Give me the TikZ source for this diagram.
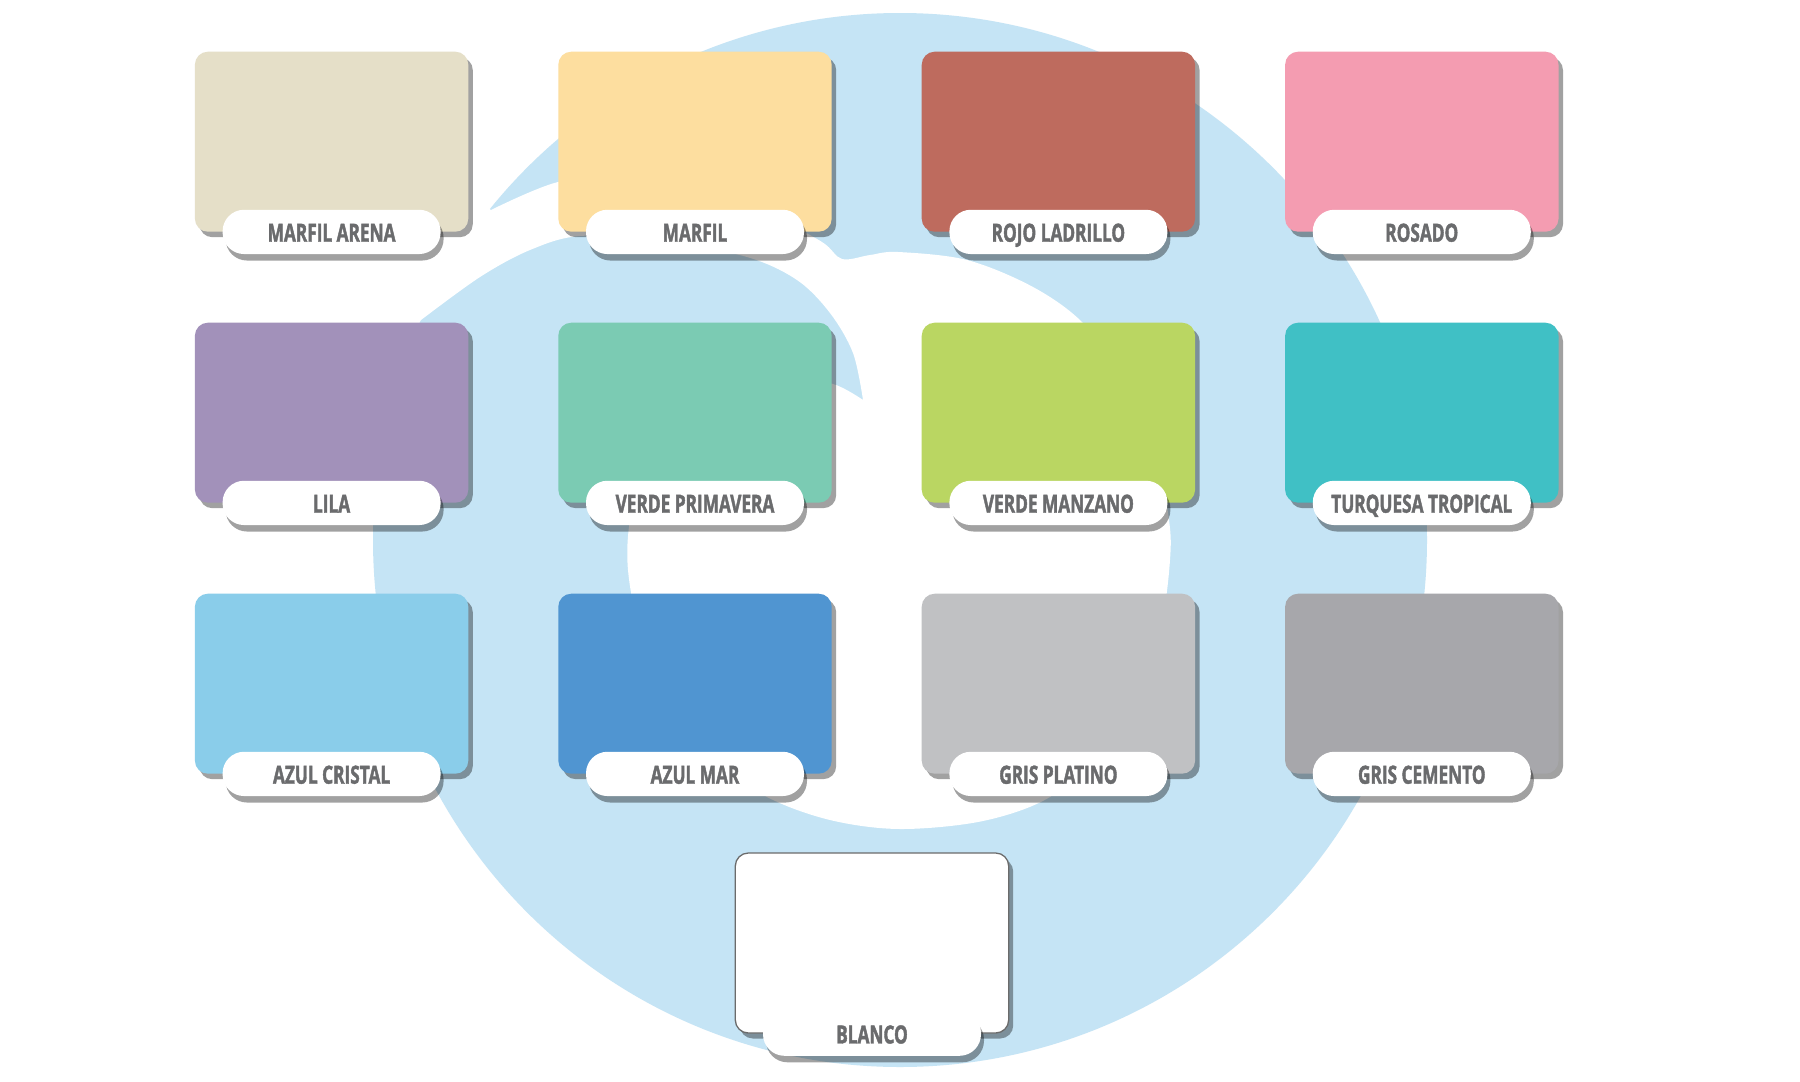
\documentclass[tikz,border=0pt]{standalone}
\usepackage{fontspec}
\newfontfamily\lblfont[FakeStretch=0.69, FakeBold=1.6]{Open Sans}
\usetikzlibrary{shadows}
\definecolor{swirl}{HTML}{C5E4F5}
\definecolor{labelgray}{HTML}{6A6B6D}
\definecolor{bordergray}{HTML}{6B6B6B}
\definecolor{cMarfilArena}{HTML}{E5DFC8}
\definecolor{cMarfil}{HTML}{FDDE9F}
\definecolor{cRojo}{HTML}{BE6B5E}
\definecolor{cRosado}{HTML}{F49CB1}
\definecolor{cLila}{HTML}{A291BA}
\definecolor{cVerdeP}{HTML}{7BCBB3}
\definecolor{cVerdeM}{HTML}{BAD662}
\definecolor{cTurquesa}{HTML}{40C0C5}
\definecolor{cAzulC}{HTML}{8ACDEA}
\definecolor{cAzulM}{HTML}{5095D1}
\definecolor{cGrisP}{HTML}{C0C1C3}
\definecolor{cGrisC}{HTML}{A7A7AB}
\begin{document}
\begin{tikzpicture}[x=1pt,y=-1pt,
  card/.style={rectangle, rounded corners=13pt, minimum width=273.4pt,
    minimum height=180pt, inner sep=0pt,
    drop shadow={shadow xshift=4.5pt,shadow yshift=-5.5pt,opacity=0.37,fill=black}},
  pill/.style={rectangle, rounded corners=21.5pt, minimum width=218pt,
    minimum height=44.3pt, inner sep=0pt, fill=white, text=labelgray,
    text height=19.6pt, text depth=0pt,
    font=\lblfont\bfseries\fontsize{25}{26}\selectfont,
    drop shadow={shadow xshift=3pt,shadow yshift=-6.5pt,opacity=0.37,fill=black}}]
\useasboundingbox (0,0) rectangle (1800,1082);
\fill[white] (0,0) rectangle (1800,1082);
% swirl background
\fill[swirl] (900,540) circle[radius=527];
\fill[white] (400,150)
  -- plot[smooth,tension=0.55] coordinates {(491,210) (558,182) (630,176) (700,190)
     (770,215) (822,242) (842,259) (870,255) (898,252) (967,260) (1033,287) (1083,323)
     (1125,380) (1155,450) (1169,520) (1170,560) (1162,620) (1140,690) (1100,750)
     (1050,797) (983,821) (900,829) (830,820) (767,797) (715,760) (670,700) (640,630)
     (628,570) (630,520) (645,465) (675,423) (725,393) (785,378) (833,384) (863,400)}
  -- plot[smooth,tension=0.55] coordinates {(863,400) (853,353) (830,313) (797,280)
     (747,257) (660,240) (580,236) (530,250) (480,277) (421,320)}
  -- (370,330) -- cycle;
% row 1
\node[card, fill=cMarfilArena] (k1) at (331.6,141.7) {};
\node[pill] (l1) at (k1.south) {MARFIL ARENA};
\node[card, fill=cMarfil] (k2) at (695,141.7) {};
\node[pill] (l2) at (k2.south) {MARFIL};
\node[card, fill=cRojo] (k3) at (1058.4,141.7) {};
\node[pill] (l3) at (k3.south) {ROJO LADRILLO};
\node[card, fill=cRosado] (k4) at (1421.8,141.7) {};
\node[pill] (l4) at (k4.south) {ROSADO};
% row 2
\node[card, fill=cLila] (k5) at (331.6,412.7) {};
\node[pill] (l5) at (k5.south) {LILA};
\node[card, fill=cVerdeP] (k6) at (695,412.7) {};
\node[pill] (l6) at (k6.south) {VERDE PRIMAVERA};
\node[card, fill=cVerdeM] (k7) at (1058.4,412.7) {};
\node[pill] (l7) at (k7.south) {VERDE MANZANO};
\node[card, fill=cTurquesa] (k8) at (1421.8,412.7) {};
\node[pill] (l8) at (k8.south) {TURQUESA TROPICAL};
% row 3
\node[card, fill=cAzulC] (k9) at (331.6,683.7) {};
\node[pill] (l9) at (k9.south) {AZUL CRISTAL};
\node[card, fill=cAzulM] (k10) at (695,683.7) {};
\node[pill] (l10) at (k10.south) {AZUL MAR};
\node[card, fill=cGrisP] (k11) at (1058.4,683.7) {};
\node[pill] (l11) at (k11.south) {GRIS PLATINO};
\node[card, fill=cGrisC] (k12) at (1421.8,683.7) {};
\node[pill] (l12) at (k12.south) {GRIS CEMENTO};
% blanco
\node[card, fill=white, draw=bordergray, line width=1.3pt] (k13) at (872,943) {};
\node[pill] (l13) at (k13.south) {BLANCO};
\end{tikzpicture}
\end{document}
